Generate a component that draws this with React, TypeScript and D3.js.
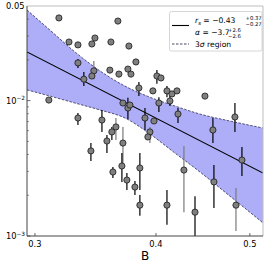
import * as d3 from "d3";

// B vs F sample
const pointB = [
  0.3101, 0.3176, 0.3253, 0.3323, 0.3435, 0.346, 0.3594, 0.3654, 0.3751,
  0.3323, 0.3451, 0.3435, 0.337, 0.3585, 0.3663, 0.3742, 0.3769, 0.3814, 0.3841,
  0.3323, 0.3518, 0.3602, 0.3637, 0.3698, 0.3742, 0.376,
  0.4009, 0.4048, 0.3971, 0.4106, 0.4155, 0.4205, 0.4135, 0.4028, 0.4215, 0.3897,
  0.3981, 0.3943, 0.3924, 0.3698, 0.4494, 0.458, 0.4826, 0.4907,
  0.3427, 0.356, 0.3611, 0.3689, 0.3733, 0.3805, 0.385, 0.385, 0.4106, 0.4275,
  0.4389, 0.4591, 0.4838,
];
const pointF = [
  0.0101, 0.0408, 0.0271, 0.0258, 0.0262, 0.029, 0.0271, 0.0387, 0.0253,
  0.019, 0.0166, 0.0152, 0.0144, 0.0168, 0.0157, 0.0171, 0.0157, 0.0193, 0.0124,
  0.00744, 0.00719, 0.00587, 0.00639, 0.0096, 0.00882, 0.00928,
  0.0152, 0.0147, 0.0118, 0.0118, 0.0112, 0.0118, 0.00994, 0.0096, 0.00796, 0.00744,
  0.00707, 0.00587, 0.00539, 0.00486, 0.0108, 0.00607, 0.00757, 0.00364,
  0.00425, 0.00503, 0.00297, 0.00329, 0.00259, 0.0023, 0.00318, 0.00169, 0.00169, 0.00307,
  0.0015, 0.00251, 0.00169,
];
const errLow: (number | null)[] = [
  null, null, null, null, null, null, null, null, null,
  0.0174, 0.0144, null, 0.0128, null, null, null, null, null, 0.0108,
  0.00661, 0.00587, 0.00512, 0.00512, null, 0.00732, null,
  0.0133, null, null, 0.0106, null, null, 0.00913, 0.00824, 0.00683, 0.00607,
  null, 0.00486, null, 0.00346, null, 0.00486, 0.00587, 0.00277,
  0.00358, 0.0041, 0.00268, 0.00251, 0.00219, 0.00201, 0.00219, 0.00141, 0.00121, 0.0015,
  0.00095, 0.00161, 0.00109,
];
const errHigh: (number | null)[] = [
  null, null, null, null, null, null, null, null, null,
  0.0203, 0.0196, null, 0.0163, null, null, null, null, null, 0.0137,
  0.0081, 0.00853, 0.00639, 0.00744, null, 0.0105, null,
  0.0168, null, null, 0.0128, null, null, 0.0108, 0.0106, 0.00882, 0.00882,
  null, 0.00639, null, 0.00639, null, 0.00744, 0.0096, 0.00454,
  0.00486, 0.00557, 0.00323, 0.0041, 0.00292, 0.00255, 0.0041, 0.00201, 0.00219, 0.00462,
  0.00197, 0.00335, 0.00226,
];
const errTone = [
  "", "", "", "", "", "", "", "", "",
  "k", "g", "", "k", "", "", "", "", "", "k",
  "k", "k", "k", "g", "", "k", "",
  "k", "", "", "k", "", "", "k", "k", "k", "k",
  "", "g", "", "g", "", "k", "k", "k",
  "k", "k", "k", "k", "k", "k", "k", "k", "k", "g",
  "k", "k", "g",
];

// best-fit power law and its 3 sigma envelope
const fitB = [0.2944, 0.5159];
const fitF = [0.0229, 0.00292];
const bandB = [0.2944, 0.3109, 0.3299, 0.3501, 0.3716, 0.3943, 0.4184, 0.4441, 0.4769, 0.5159];
const bandHigh = [0.0467, 0.0332, 0.0229, 0.0166, 0.0128, 0.0106, 0.00913, 0.00796, 0.00707, 0.00628];
const bandLow = [0.012, 0.0108, 0.0096, 0.00853, 0.00744, 0.00567, 0.0041, 0.00297, 0.00197, 0.00125];

const xTicks = [0.3, 0.4, 0.5];
const xTickLabels = ["0.3", "0.4", "0.5"];
const yMinor = [0.002, 0.003, 0.004, 0.005, 0.006, 0.007, 0.008, 0.009, 0.02, 0.03, 0.04];

const FONT = "DejaVu Sans";

export default function App() {
  const left = 27, right = 263, top = 6, bottom = 236;
  const x = d3.scaleLog().domain([0.2944, 0.5159]).range([left, right]);
  const y = d3.scaleLog().domain([0.001, 0.05]).range([bottom, top]);

  const idx = d3.range(bandB.length);
  const area = d3.area<number>()
    .x((i) => x(bandB[i]))
    .y0((i) => y(bandLow[i]))
    .y1((i) => y(bandHigh[i]))
    .curve(d3.curveMonotoneX);
  const edge = (vals: number[]) =>
    d3.line<number>().x((i) => x(bandB[i])).y((i) => y(vals[i])).curve(d3.curveMonotoneX)(idx) || "";
  const fit = d3.line<number>().x((i) => x(fitB[i])).y((i) => y(fitF[i]))([0, 1]) || "";

  const tick = 8.3;

  return (
    <svg width={267} height={267} style={{ position: "absolute", left: 0, top: 0, background: "#fff" }}
      fontFamily={FONT}>
      <defs>
        <clipPath id="plot">
          <rect x={left} y={top} width={right - left} height={bottom - top} />
        </clipPath>
      </defs>
      <g clipPath="url(#plot)">
        <path d={area(idx) || ""} fill="#adadf8" />
        <path d={edge(bandHigh)} fill="none" stroke="#1a1a3a" strokeWidth={0.7} strokeDasharray="2.5,1.5" />
        <path d={edge(bandLow)} fill="none" stroke="#1a1a3a" strokeWidth={0.7} strokeDasharray="2.5,1.5" />
        <path d={fit} fill="none" stroke="#000" strokeWidth={1.1} />
        {pointB.map((b, i) => {
          const lo = errLow[i], hi = errHigh[i];
          if (lo == null || hi == null) return null;
          return (
            <line key={"e" + i} x1={x(b)} x2={x(b)} y1={y(lo)} y2={y(hi)}
              stroke={errTone[i] === "g" ? "#7a7a7a" : "#000"} strokeWidth={1.2} />
          );
        })}
        {pointB.map((b, i) => (
          <circle key={"p" + i} cx={x(b)} cy={y(pointF[i])} r={3.1}
            fill="#7f7f7f" stroke="#1a1a1a" strokeWidth={0.8} />
        ))}
      </g>

      {/* spines */}
      <line x1={left} x2={right} y1={top} y2={top} stroke="#bdbdbd" strokeWidth={1} />
      <line x1={right} x2={right} y1={top} y2={bottom} stroke="#bdbdbd" strokeWidth={1} />
      <line x1={left} x2={left} y1={top} y2={bottom} stroke="#444" strokeWidth={1} />
      <line x1={left} x2={right} y1={bottom} y2={bottom} stroke="#444" strokeWidth={1} />

      {/* y ticks */}
      {[0.001, 0.01].map((v) => (
        <line key={"ym" + v} x1={left} x2={left + 3.5} y1={y(v)} y2={y(v)} stroke="#444" strokeWidth={0.8} />
      ))}
      {yMinor.map((v) => (
        <line key={"yn" + v} x1={left} x2={left + 2} y1={y(v)} y2={y(v)} stroke="#444" strokeWidth={0.6} />
      ))}
      <text x={24.5} y={y(0.05) + 3} fontSize={tick} textAnchor="end" fill="#000">0.05</text>
      <text x={25} y={y(0.01) + 3} fontSize={tick} textAnchor="end" fill="#000">
        10<tspan fontSize={5.8} dy={-3.5}>−2</tspan>
      </text>
      <text x={25} y={y(0.001) + 3} fontSize={tick} textAnchor="end" fill="#000">
        10<tspan fontSize={5.8} dy={-3.5}>−3</tspan>
      </text>

      {/* x ticks */}
      {xTicks.map((v, i) => (
        <g key={"xt" + v}>
          <line x1={x(v)} x2={x(v)} y1={bottom} y2={bottom - 3} stroke="#444" strokeWidth={0.8} />
          <text x={x(v)} y={bottom + 11} fontSize={tick} textAnchor="middle" fill="#000">{xTickLabels[i]}</text>
        </g>
      ))}
      <text x={(left + right) / 2} y={260} fontSize={12} textAnchor="middle" fill="#000">B</text>

      {/* legend */}
      <rect x={169.5} y={11.5} width={92.5} height={39.5} rx={2} fill="#fff" fillOpacity={0.85}
        stroke="#cccccc" strokeWidth={0.8} />
      <line x1={172} x2={189} y1={25.5} y2={25.5} stroke="#000" strokeWidth={1.1} />
      <text x={195} y={23} fontSize={7.6} fill="#000">
        <tspan fontStyle="italic">r</tspan>
        <tspan fontStyle="italic" fontSize={5.4} dy={1.6}>s</tspan>
        <tspan dy={-1.6}> = −0.43</tspan>
      </text>
      <text x={245.5} y={19.5} fontSize={5.3} fill="#000">+0.37</text>
      <text x={245.5} y={25.5} fontSize={5.3} fill="#000">−0.27</text>
      <text x={195} y={35} fontSize={7.6} fill="#000">
        <tspan fontStyle="italic">α</tspan> = −3.7
      </text>
      <text x={228} y={31.5} fontSize={5.3} fill="#000">+2.6</text>
      <text x={228} y={37.5} fontSize={5.3} fill="#000">−2.6</text>
      <line x1={172} x2={189} y1={44} y2={44} stroke="#1a1a3a" strokeWidth={0.8} strokeDasharray="2.5,1.5" />
      <text x={195} y={46.8} fontSize={7.6} fill="#000">
        3<tspan fontStyle="italic">σ</tspan> region
      </text>
    </svg>
  );
}
